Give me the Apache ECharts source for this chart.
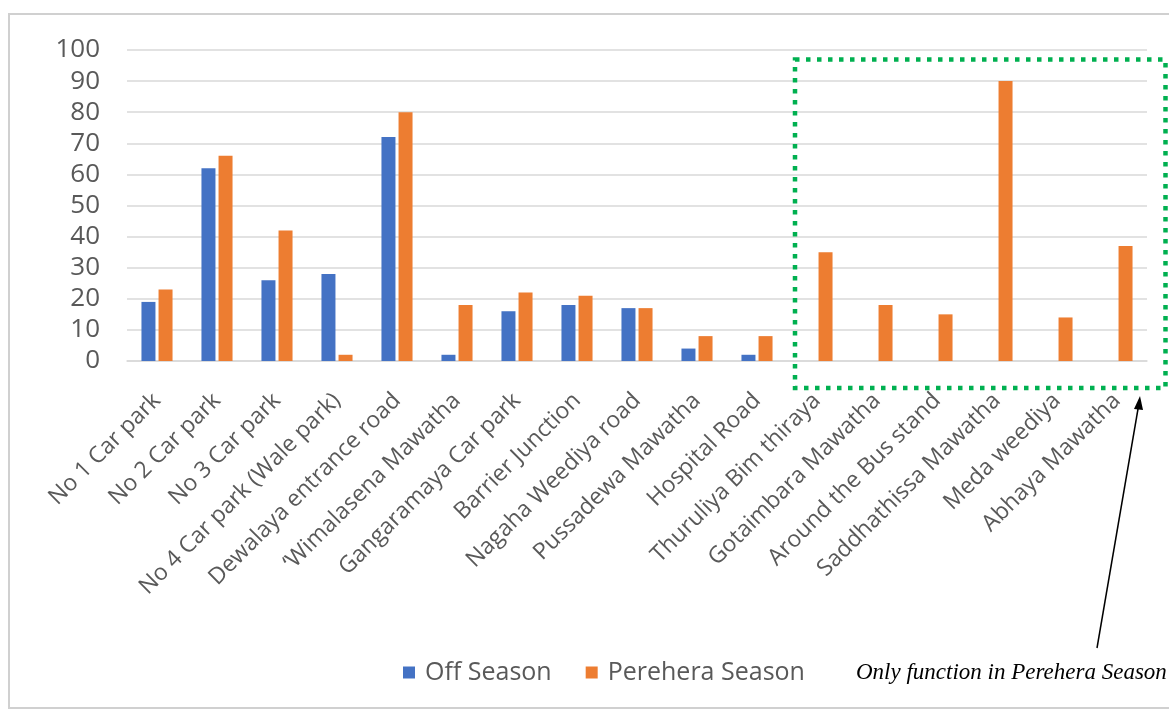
<!DOCTYPE html>
<html>
<head>
<meta charset="utf-8">
<script src="https://cdn.jsdelivr.net/npm/echarts@6/dist/echarts.min.js"></script>
<style>html,body{margin:0;padding:0;background:#fff;}#c{width:1169px;height:711px;}</style>
</head>
<body>
<div id="c"></div>
<script>
const categories = ["No 1 Car park","No 2 Car park","No 3 Car park","No 4 Car park (Wale park)","Dewalaya entrance road","\u2018Wimalasena Mawatha","Gangaramaya Car park","Barrier Junction","Nagaha Weediya road","Pussadewa Mawatha","Hospital Road","Thuruliya Bim thiraya","Gotaimbara Mawatha","Around the Bus stand","Saddhathissa Mawatha","Meda weediya","Abhaya Mawatha"];
const offSeason = [19,62,26,28,72,2,16,18,17,4,2,null,null,null,null,null,null];
const pereheraSeason = [23,66,42,2,80,18,22,21,17,8,8,35,18,15,90,14,37];
const yTicks = {min:0, max:100, interval:10};
const seriesNames = ["Off Season","Perehera Season"];
const annotationText = "Only function in Perehera Season";

const chart = echarts.init(document.getElementById('c'));
const font = "'Open Sans', 'Noto Sans', sans-serif";
chart.setOption({
  animation:false,
  backgroundColor:'#fff',
  grid:{left:127,right:22,top:50,bottom:350,containLabel:false},
  legend:{
    data:seriesNames,
    top:655,left:398,
    itemWidth:12,itemHeight:12,itemGap:34,
    icon:'rect',
    textStyle:{color:'#595959',fontSize:25,fontFamily:font,padding:[0,0,0,5]}
  },
  xAxis:{
    type:'category',data:categories,
    axisLine:{lineStyle:{color:'#d9d9d9',width:1.5}},
    axisTick:{show:false},
    axisLabel:{rotate:45,interval:0,margin:36,color:'#595959',fontSize:23,fontFamily:font}
  },
  yAxis:{
    type:'value',min:yTicks.min,max:yTicks.max,interval:yTicks.interval,
    axisLine:{show:false},axisTick:{show:false},
    splitLine:{lineStyle:{color:'#d9d9d9',width:1.5}},
    axisLabel:{margin:27,color:'#595959',fontSize:26,fontFamily:font}
  },
  series:[
    {name:seriesNames[0],type:'bar',data:offSeason,barWidth:14,barGap:'22%',itemStyle:{color:'#4472c4'}},
    {name:seriesNames[1],type:'bar',data:pereheraSeason,barWidth:14,itemStyle:{color:'#ed7d31'}}
  ],
  graphic:[
    {type:'rect',shape:{x:9,y:14,width:1170,height:694},style:{fill:'none',stroke:'#d0d0d0',lineWidth:2},z:-1},
    {type:'rect',shape:{x:795,y:59.5,width:370.5,height:328.5},style:{fill:'none',stroke:'#00b050',lineWidth:4.5,lineDash:[4.5,6.5]},z:10},
    {type:'line',shape:{x1:1097,y1:648,x2:1138.5,y2:406},style:{stroke:'#000',lineWidth:1.5},z:10},
    {type:'polygon',shape:{points:[[1140,396],[1143,410],[1134,409]]},style:{fill:'#000'},z:10},
    {type:'text',left:856,top:661,style:{text:annotationText,font:"italic 23px 'Liberation Serif', serif",fill:'#000'},z:10}
  ]
});
</script>
</body>
</html>
